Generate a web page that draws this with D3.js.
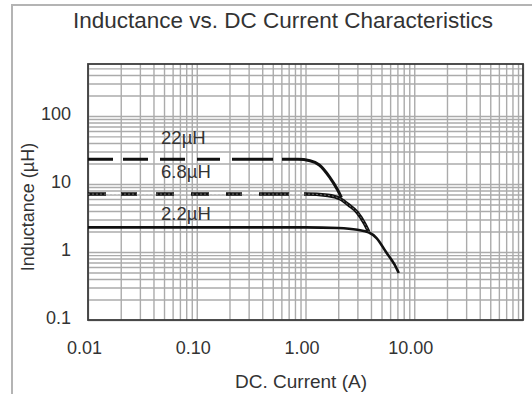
<!DOCTYPE html>
<meta charset="utf-8">
<title>Inductance vs. DC Current Characteristics</title>
<script src="https://d3js.org/d3.v7.min.js"></script>
<body style="margin: 0; background: #fff;">
<div id="chart"></div>
</body>
<script>
// values (current in A, inductance in uH)
current22 = [0.01, 0.5, 0.85, 1.1, 1.34, 1.66, 1.97, 2.14]
induct22  = [23, 23, 23, 22, 19, 12.7, 8.2, 6.3]
current68 = [0.01, 0.5, 1.0, 1.6, 2.1, 2.5, 3.0, 3.5, 3.8]
induct68  = [7.1, 7.1, 7.1, 6.8, 6.0, 4.9, 3.8, 2.6, 2.0]
current22b = [0.01, 0.5, 1.0, 2.0, 3.0, 3.8, 4.5, 5.5, 6.6, 7.2]
induct22b  = [2.3, 2.3, 2.3, 2.25, 2.12, 1.95, 1.6, 1.0, 0.65, 0.49]
seriesNames = ["22µH", "6.8µH", "2.2µH"]
xTicks = [0.01, 0.1, 1, 10]
xTickLabels = ["0.01", "0.10", "1.00", "10.00"]
yTicks = [0.1, 1, 10, 100]
yTickLabels = ["0.1", "1", "10", "100"]

width = 532
height = 394
font = "Liberation Sans, Arial, sans-serif"

x = d3.scaleLog().domain([0.01, 100]).range([88, 523])
y = d3.scaleLog().domain([0.1, 580]).range([320, 64])

svg = d3.select("#chart").append("svg")
    .attr("width", width)
    .attr("height", height)
    .style("font-family", font)
    .style("display", "block")

// outer picture frame (runs off the right / bottom edge)
svg.append("rect")
    .attr("x", 12).attr("y", 5)
    .attr("width", 600).attr("height", 500)
    .attr("fill", "none")
    .attr("stroke", "#b4b4b4")
    .attr("stroke-width", 2)

svg.append("text")
    .attr("x", 283).attr("y", 28)
    .attr("text-anchor", "middle")
    .attr("font-size", 22.5)
    .attr("fill", "#333")
    .text("Inductance vs. DC Current Characteristics")

// log grid drawn with the axes
gridColor = "#ababab"
svg.append("g")
    .attr("transform", `translate(0,${y.range()[0]})`)
    .call(d3.axisBottom(x).tickValues(x.ticks()).tickSize(y.range()[1] - y.range()[0]).tickFormat(""))
    .call(g => g.select(".domain").remove())
    .call(g => g.selectAll("line").attr("stroke", gridColor).attr("stroke-width", 1.4))

svg.append("g")
    .attr("transform", `translate(${x.range()[0]},0)`)
    .call(d3.axisLeft(y).tickValues(y.ticks()).tickSize(x.range()[0] - x.range()[1]).tickFormat(""))
    .call(g => g.select(".domain").remove())
    .call(g => g.selectAll("line").attr("stroke", gridColor).attr("stroke-width", 1.4))

// tick labels
svg.append("g")
    .attr("transform", `translate(0,${y.range()[0]})`)
    .call(d3.axisBottom(x).tickValues(xTicks).tickSize(0).tickPadding(0)
      .tickFormat((d, i) => xTickLabels[i]))
    .call(g => g.select(".domain").remove())
    .call(g => g.selectAll("text")
      .attr("font-family", font).attr("font-size", 18).attr("fill", "#333")
      .attr("dx", -4).attr("dy", 0).attr("y", 34))

svg.append("g")
    .attr("transform", `translate(${x.range()[0]},0)`)
    .call(d3.axisLeft(y).tickValues(yTicks).tickSize(0).tickPadding(0)
      .tickFormat((d, i) => yTickLabels[i]))
    .call(g => g.select(".domain").remove())
    .call(g => g.selectAll("text")
      .attr("font-family", font).attr("font-size", 18).attr("fill", "#333")
      .attr("x", -17).attr("dy", "0.32em").attr("transform", "translate(0,-2)"))

// plot frame
svg.append("rect")
    .attr("x", x.range()[0]).attr("y", y.range()[1])
    .attr("width", x.range()[1] - x.range()[0])
    .attr("height", y.range()[0] - y.range()[1])
    .attr("fill", "none")
    .attr("stroke", "#3c3c3c")
    .attr("stroke-width", 1.8)

// axis titles
svg.append("text")
    .attr("x", 301).attr("y", 388)
    .attr("text-anchor", "middle")
    .attr("font-size", 19)
    .attr("fill", "#333")
    .text("DC. Current (A)")

svg.append("text")
    .attr("transform", "translate(34,207) rotate(-90)")
    .attr("text-anchor", "middle")
    .attr("font-size", 18)
    .attr("fill", "#333")
    .text("Inductance (µH)")

// curves: dashed on the flat part, the dash runs solid into the roll-off
line = d3.line()
    .curve(d3.curveMonotoneX)
    .x(d => x(d[0]))
    .y(d => y(d[1]))

series = [
  {pts: d3.zip(current22, induct22), w: 3, dash: "25,10,25,12,25,12,23,12,41,9,9999"},
  {pts: d3.zip(current68, induct68), w: 3.6, dash: "18,15,16,19,18,17,18,17,16,17,30,15,9999"},
  {pts: d3.zip(current22b, induct22b), w: 2.6, dash: null}
]

svg.append("g")
    .attr("fill", "none")
    .attr("stroke", "#111")
  .selectAll("path")
  .data(series)
  .join("path")
    .attr("stroke-width", d => d.w)
    .attr("stroke-dasharray", d => d.dash)
    .attr("d", d => line(d.pts))

// dotted texture inside the 6.8uH line
svg.append("path")
    .attr("fill", "none")
    .attr("stroke", "#fff")
    .attr("stroke-opacity", 0.4)
    .attr("stroke-width", 1)
    .attr("stroke-dasharray", "2,2")
    .attr("d", line(series[1].pts))

labelOffsets = [-15, -16, -7]
svg.append("g")
    .attr("font-size", 18.5)
    .attr("fill", "#333")
  .selectAll("text")
  .data(series)
  .join("text")
    .attr("x", x(0.047))
    .attr("y", (d, i) => y(d.pts[0][1]) + labelOffsets[i])
    .text((d, i) => seriesNames[i])
</script>
